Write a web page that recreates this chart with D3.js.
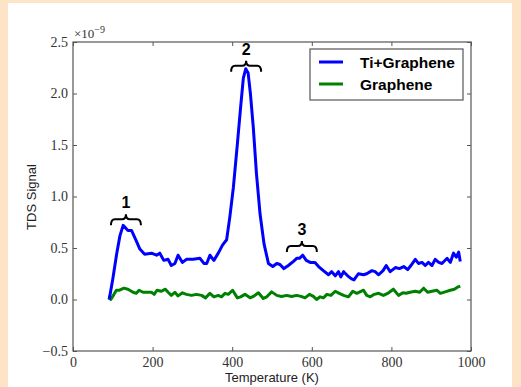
<!DOCTYPE html>
<html lang="en">
<head>
<meta charset="UTF-8">
<title>TDS</title>
<script src="https://cdn.jsdelivr.net/npm/d3@7"></script>
<style>
  body { margin: 0; background: #fde4c6; }
  #main_container { position: absolute; left: 8px; top: 3px; width: 504px; height: 384px; background: #fff; }
</style>
</head>
<body>
<div id="main_container"></div>
<script>

    // temperature (K) and signal (x1e-9)
    var tiTemp = [91, 100, 110, 118, 126, 138, 147, 159, 168, 180, 197, 210, 218, 228, 239, 247, 256, 264, 275, 285, 302, 319, 329, 336, 344, 354, 365, 376, 386, 394, 403, 413, 421, 428, 434, 440, 446, 453, 461, 470, 480, 491, 502, 512, 520, 530, 541, 554, 562, 569, 577, 586, 596, 608, 617, 629, 642, 650, 659, 667, 673, 680, 690, 700, 706, 717, 730, 738, 751, 759, 768, 779, 787, 797, 810, 820, 831, 841, 849, 860, 868, 877, 885, 893, 902, 910, 919, 927, 940, 948, 956, 963, 969, 973];
    var tiSignal = [0.0, 0.2, 0.45, 0.62, 0.72, 0.67, 0.67, 0.57, 0.49, 0.44, 0.45, 0.43, 0.45, 0.38, 0.39, 0.33, 0.35, 0.43, 0.36, 0.39, 0.39, 0.40, 0.35, 0.35, 0.43, 0.38, 0.45, 0.53, 0.58, 0.80, 1.09, 1.51, 1.86, 2.15, 2.24, 2.20, 1.99, 1.67, 1.22, 0.83, 0.54, 0.35, 0.32, 0.35, 0.34, 0.30, 0.33, 0.37, 0.40, 0.40, 0.43, 0.38, 0.36, 0.36, 0.32, 0.28, 0.24, 0.27, 0.23, 0.27, 0.22, 0.27, 0.23, 0.20, 0.19, 0.25, 0.24, 0.25, 0.28, 0.27, 0.24, 0.28, 0.33, 0.27, 0.31, 0.30, 0.32, 0.29, 0.33, 0.39, 0.35, 0.36, 0.33, 0.36, 0.33, 0.39, 0.36, 0.35, 0.40, 0.36, 0.45, 0.41, 0.46, 0.37];

    var grTemp = [91, 92, 95, 103, 109, 117, 128, 138, 151, 159, 166, 176, 186, 197, 204, 211, 222, 232, 239, 247, 256, 264, 275, 285, 298, 310, 323, 333, 344, 354, 365, 373, 382, 390, 401, 413, 421, 432, 445, 453, 466, 478, 487, 499, 512, 524, 537, 549, 562, 573, 583, 594, 604, 612, 621, 629, 638, 648, 659, 669, 680, 692, 703, 713, 721, 730, 738, 747, 757, 768, 780, 793, 805, 818, 829, 837, 847, 860, 871, 881, 891, 902, 914, 923, 935, 948, 958, 966, 973];
    var grSignal = [0.0, 0.03, 0.0, 0.05, 0.09, 0.09, 0.11, 0.10, 0.07, 0.06, 0.09, 0.07, 0.07, 0.07, 0.05, 0.09, 0.08, 0.10, 0.07, 0.04, 0.07, 0.035, 0.065, 0.05, 0.04, 0.05, 0.04, 0.016, 0.06, 0.026, 0.04, 0.026, 0.06, 0.05, 0.09, 0.016, 0.026, 0.05, 0.016, 0.03, 0.065, 0.01, 0.026, 0.074, 0.04, 0.03, 0.04, 0.03, 0.04, 0.03, 0.016, 0.05, 0.03, 0.0, 0.026, 0.016, 0.05, 0.04, 0.08, 0.06, 0.04, 0.026, 0.08, 0.06, 0.074, 0.09, 0.04, 0.026, 0.05, 0.06, 0.04, 0.065, 0.10, 0.04, 0.065, 0.06, 0.07, 0.08, 0.07, 0.11, 0.07, 0.08, 0.09, 0.06, 0.074, 0.09, 0.10, 0.12, 0.13];

    // peak brackets: label, centre temperature, signal level of the brace
    var peakLabels = ["1", "2", "3"];
    var peakTemp = [133, 435, 575];
    var peakLevel = [0.78, 2.27, 0.52];

    var xTicks = [0, 200, 400, 600, 800, 1000];
    var yTicks = [-0.5, 0.0, 0.5, 1.0, 1.5, 2.0, 2.5];
    var seriesNames = ["Ti+Graphene", "Graphene"];
    var seriesColors = ["#0000ff", "#008000"];

    var svgWidth = 504;
    var svgHeight = 384;
    var ox = 8, oy = 3; // container offset within the page
    var padL = 73 - ox, padR = 471 - ox, padT = 42 - oy, padB = 351 - oy;

    var svg = d3.select("#main_container").append("svg")
            .attr("width", svgWidth)
            .attr("height", svgHeight);

    var x = d3.scaleLinear().domain([0, 1000]).range([padL, padR]);
    var y = d3.scaleLinear().domain([-0.5, 2.5]).range([padB, padT]);

    var serif = "'Liberation Serif', 'DejaVu Serif', serif";
    var sans = "'Liberation Sans', Arial, sans-serif";
    var fmtY = function(d){ return d3.format(".1f")(d).replace("-", "\u2212"); };

    // axes: inward ticks on all four sides
    var axes = [
        {gen: d3.axisBottom(x).tickValues(xTicks).tickSize(-4).tickPadding(6).tickFormat(d3.format("d")), t: "translate(0," + padB + ")"},
        {gen: d3.axisTop(x).tickValues(xTicks).tickSize(-4).tickFormat(""), t: "translate(0," + padT + ")"},
        {gen: d3.axisLeft(y).tickValues(yTicks).tickSize(-4).tickPadding(5).tickFormat(fmtY), t: "translate(" + padL + ",0)"},
        {gen: d3.axisRight(y).tickValues(yTicks).tickSize(-4).tickFormat(""), t: "translate(" + padR + ",0)"}
    ];
    axes.forEach(function(a){
        var g = svg.append("g").attr("transform", a.t).call(a.gen);
        g.select(".domain").remove();
        g.selectAll("line").attr("stroke", "#555").attr("stroke-width", 1);
        g.selectAll("text").attr("fill", "#333").style("font-family", serif).style("font-size", "14px");
    });

    svg.append("rect")
        .attr("x", padL).attr("y", padT)
        .attr("width", padR - padL).attr("height", padB - padT)
        .attr("fill", "none").attr("stroke", "#555").attr("stroke-width", 1.2);

    // offset text
    var off = svg.append("text").attr("x", padL + 1).attr("y", padT - 4)
        .attr("fill", "#333").style("font-family", serif).style("font-size", "13px");
    off.append("tspan").text("\u00d710");
    off.append("tspan").attr("dy", -5).style("font-size", "10px").text("\u22129");

    var line = d3.line()
        .x(function(d){ return x(d[0]); })
        .y(function(d){ return y(d[1]); });

    var green = grTemp.map(function(t, i){ return [t, grSignal[i]]; });
    var blue = tiTemp.map(function(t, i){ return [t, tiSignal[i]]; });

    svg.append("path").datum(green).attr("d", line)
        .attr("fill", "none").attr("stroke", seriesColors[1]).attr("stroke-width", 3).attr("stroke-linejoin", "round");
    svg.append("path").datum(blue).attr("d", line)
        .attr("fill", "none").attr("stroke", seriesColors[0]).attr("stroke-width", 3).attr("stroke-linejoin", "round");

    // over-braces with labels
    peakLabels.forEach(function(lab, i){
        var cx = x(peakTemp[i]), cy = y(peakLevel[i]), hw = 15;
        var p = "M" + (cx - hw) + "," + (cy + 6) +
                " Q" + (cx - hw) + "," + cy + " " + (cx - hw + 4) + "," + cy +
                " L" + (cx - 4) + "," + cy +
                " Q" + cx + "," + cy + " " + cx + "," + (cy - 5) +
                " Q" + cx + "," + cy + " " + (cx + 4) + "," + cy +
                " L" + (cx + hw - 4) + "," + cy +
                " Q" + (cx + hw) + "," + cy + " " + (cx + hw) + "," + (cy + 6);
        svg.append("path").attr("d", p).attr("fill", "none").attr("stroke", "#000").attr("stroke-width", 2);
        svg.append("text").attr("x", cx).attr("y", cy - 11)
            .attr("text-anchor", "middle")
            .style("font-family", sans).style("font-weight", "bold").style("font-size", "16px")
            .text(lab);
    });

    // legend
    var lg = svg.append("g").attr("transform", "translate(" + (310 - ox) + "," + (49 - oy) + ")");
    lg.append("rect").attr("width", 153).attr("height", 51)
        .attr("fill", "#fff").attr("stroke", "#555").attr("stroke-width", 1.2);
    seriesNames.forEach(function(n, i){
        var yy = 13 + i * 22;
        lg.append("line").attr("x1", 9).attr("x2", 33).attr("y1", yy).attr("y2", yy)
            .attr("stroke", seriesColors[i]).attr("stroke-width", 3);
        lg.append("text").attr("x", 50).attr("y", yy + 5.5)
            .style("font-family", sans).style("font-weight", "bold").style("font-size", "15.5px")
            .text(n);
    });

    // axis labels
    svg.append("text").attr("x", 272 - ox).attr("y", 382 - oy)
        .attr("text-anchor", "middle").style("font-family", sans).style("font-size", "13px").attr("fill", "#222")
        .text("Temperature (K)");
    svg.append("text").attr("transform", "translate(" + (36 - ox) + "," + (197 - oy) + ") rotate(-90)")
        .attr("text-anchor", "middle").style("font-family", sans).style("font-size", "13px").attr("fill", "#222")
        .text("TDS Signal");
</script>
</body>
</html>
